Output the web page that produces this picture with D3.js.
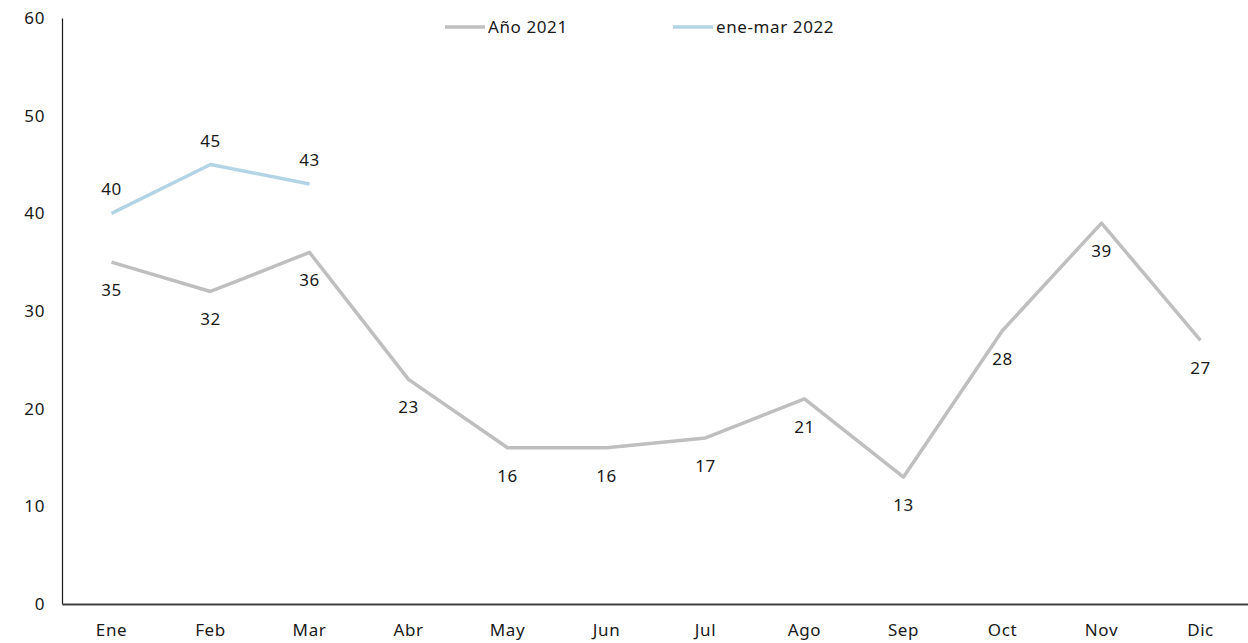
<!DOCTYPE html>
<html>
<head>
<meta charset="utf-8">
<script src="https://cdn.jsdelivr.net/npm/d3@7"></script>
<style>
  body { margin: 0; background: #fff; }
  text { font-family: "Noto Sans", sans-serif; fill: #1a1a1a; letter-spacing: 0.6px; }
</style>
</head>
<body>
<div id="chart"></div>
<script>
// categories and series
var months = ['Ene', 'Feb', 'Mar', 'Abr', 'May', 'Jun', 'Jul', 'Ago', 'Sep', 'Oct', 'Nov', 'Dic'];
var serie2021 = [35, 32, 36, 23, 16, 16, 17, 21, 13, 28, 39, 27];
var serie2022 = [40, 45, 43];
var yTicks = [0, 10, 20, 30, 40, 50, 60];
var seriesNames = ['Año 2021', 'ene-mar 2022'];

var width = 1248, height = 643;
var plotLeft = 62, plotRight = 1250, plotTop = 18, plotBottom = 604;

var svg = d3.select('#chart').append('svg')
	.attr('width', width)
	.attr('height', height);

var x = d3.scaleBand().domain(months).range([plotLeft, plotRight]);
var y = d3.scaleLinear().domain([0, 60]).range([plotBottom, plotTop]);

// y axis: line + labels, no ticks
var yAxis = svg.append('g')
	.attr('transform', 'translate(' + plotLeft + ',0)')
	.call(d3.axisLeft(y).tickValues(yTicks).tickSize(0).tickPadding(17));
yAxis.select('.domain').attr('stroke', '#1a1a1a').attr('stroke-width', 1.2);
yAxis.selectAll('text').style('font-size', '17px').attr('fill', '#1a1a1a');

// x axis
var xAxis = svg.append('g')
	.attr('transform', 'translate(0,' + plotBottom + ')')
	.call(d3.axisBottom(x).tickSize(0).tickPadding(20));
xAxis.select('.domain').attr('stroke', '#404040').attr('stroke-width', 2);
xAxis.selectAll('text').style('font-size', '17px').attr('fill', '#1a1a1a');

var line = d3.line()
	.x(function(d, i) { return x(months[i]) + x.bandwidth() / 2; })
	.y(function(d) { return y(d); });

svg.append('path')
	.datum(serie2021)
	.attr('d', line)
	.attr('fill', 'none')
	.attr('stroke', '#bfbfbf')
	.attr('stroke-width', 3.5)
	.attr('stroke-linejoin', 'round');

svg.append('path')
	.datum(serie2022)
	.attr('d', line)
	.attr('fill', 'none')
	.attr('stroke', '#b3d4e5')
	.attr('stroke-width', 3.5)
	.attr('stroke-linejoin', 'round');

// data labels: 2021 below, 2022 above
svg.selectAll('.lbl2021')
	.data(serie2021)
	.enter()
	.append('text')
		.attr('class', 'lbl2021')
		.attr('x', function(d, i) { return x(months[i]) + x.bandwidth() / 2; })
		.attr('y', function(d) { return y(d) + 34; })
		.attr('text-anchor', 'middle')
		.style('font-size', '17px')
		.text(function(d) { return d; });

svg.selectAll('.lbl2022')
	.data(serie2022)
	.enter()
	.append('text')
		.attr('class', 'lbl2022')
		.attr('x', function(d, i) { return x(months[i]) + x.bandwidth() / 2; })
		.attr('y', function(d) { return y(d) - 18; })
		.attr('text-anchor', 'middle')
		.style('font-size', '17px')
		.text(function(d) { return d; });

// legend
var legendColors = ['#bfbfbf', '#b3d4e5'];
var legendX = [445, 673];
var legend = svg.selectAll('.legend')
	.data(seriesNames)
	.enter()
	.append('g')
		.attr('class', 'legend')
		.attr('transform', function(d, i) { return 'translate(' + legendX[i] + ',27)'; });
legend.append('line')
	.attr('x1', 0).attr('x2', 40)
	.attr('stroke', function(d, i) { return legendColors[i]; })
	.attr('stroke-width', 3.5);
legend.append('text')
	.attr('x', 43)
	.attr('dy', '0.35em')
	.style('font-size', '17px')
	.text(function(d) { return d; });
</script>
</body>
</html>
